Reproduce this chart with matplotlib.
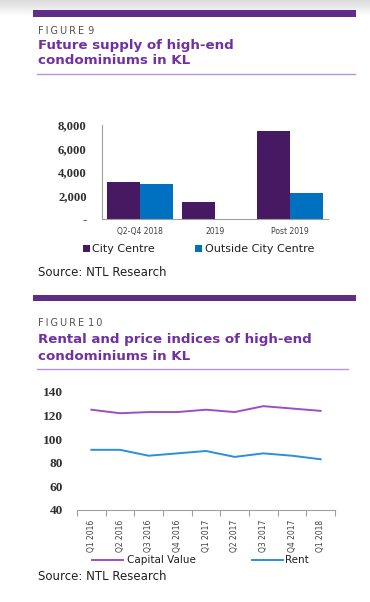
import numpy as np
import matplotlib.pyplot as plt
from matplotlib.patches import Rectangle
from matplotlib.lines import Line2D

# figure 9 data: future supply (units)
supply_cats = ["Q2-Q4 2018", "2019", "Post 2019"]
city_centre = [3150, 1450, 7500]
outside_city = [2980, 0, 2200]

# figure 10 data: indices
quarters = ["Q1 2016", "Q2 2016", "Q3 2016", "Q4 2016", "Q1 2017",
            "Q2 2017", "Q3 2017", "Q4 2017", "Q1 2018"]
capital_value = [125, 122, 123, 123, 125, 123, 128, 126, 124]
rent = [91, 91, 86, 88, 90, 85, 88, 86, 83]

W, H = 370, 602
purple_dark = "#5f2d88"
title_col = "#7030a0"
thin_col = "#b994d6"
grey_txt = "#505050"

fig = plt.figure(figsize=(W / 100, H / 100), dpi=100)

def fx(x):
    return x / W

def fy(y):
    return 1 - y / H

# light grey shadow at the very top
grad = fig.add_axes([0, fy(16), 1, 16 / H])
g = np.linspace(0.86, 1.0, 50).reshape(-1, 1)
grad.imshow(np.dstack([g, g, g]), aspect="auto", extent=[0, 1, 0, 1])
grad.axis("off")

def header(y_bar, bar_h, y_fig, y_t1, y_t2, y_line, x_line_end, num, l1, l2):
    fig.add_artist(Rectangle((fx(33), fy(y_bar + bar_h)), fx(356) - fx(33), bar_h / H,
                             transform=fig.transFigure, color=purple_dark, lw=0))
    # letter-spaced label
    label = "\u2009".join("FIGURE") + "\u2009\u2009" + "\u2009".join(num)
    fig.text(fx(38), fy(y_fig), label, fontsize=7, color=grey_txt,
             va="center", ha="left")
    fig.text(fx(38), fy(y_t1), l1, fontsize=9.6, color=title_col, weight="bold",
             va="center", ha="left")
    fig.text(fx(38), fy(y_t2), l2, fontsize=9.6, color=title_col, weight="bold",
             va="center", ha="left")
    fig.add_artist(Line2D([fx(37), fx(x_line_end)], [fy(y_line), fy(y_line)],
                          transform=fig.transFigure, color=thin_col, lw=1))

header(10, 7, 31, 45, 61, 74, 355, "9", "Future supply of high-end", "condominiums in KL")
header(295, 6, 323, 339, 357, 369, 348, "10", "Rental and price indices of high-end",
       "condominiums in KL")

# ---- figure 9: bar chart
ax1 = fig.add_axes([fx(102), fy(219), fx(328) - fx(102), (219 - 125) / H])
x = np.arange(len(supply_cats))
bw = 0.44
ax1.bar(x - bw / 2, city_centre, bw, color="#461962")
ax1.bar(x + bw / 2, outside_city, bw, color="#0070c0")
ax1.set_xlim(-0.5, 2.5)
ax1.set_ylim(0, 8000)
ax1.set_yticks([0, 2000, 4000, 6000, 8000])
ax1.set_yticklabels(["-", "2,000", "4,000", "6,000", "8,000"],
                    family="Liberation Serif", weight="bold", fontsize=9.2, color="#303030")
ax1.set_xticks(x)
ax1.set_xticklabels(supply_cats, fontsize=5.5, color="#404040")
ax1.tick_params(axis="both", length=0)
ax1.tick_params(axis="y", pad=11)
ax1.tick_params(axis="x", pad=6)
for s in ["top", "right"]:
    ax1.spines[s].set_visible(False)
for s in ["left", "bottom"]:
    ax1.spines[s].set_color("#a0a0a0")
    ax1.spines[s].set_linewidth(0.8)

# legend built by hand to match spacing
fig.add_artist(Rectangle((fx(83), fy(252)), 7 / W, 7 / H, transform=fig.transFigure,
                         color="#461962", lw=0))
fig.text(fx(92), fy(249), "City Centre", fontsize=8, va="center", color="#202020")
fig.add_artist(Rectangle((fx(195), fy(252)), 7 / W, 7 / H, transform=fig.transFigure,
                         color="#0070c0", lw=0))
fig.text(fx(205), fy(249), "Outside City Centre", fontsize=8, va="center", color="#202020")
fig.text(fx(38), fy(273), "Source: NTL Research", fontsize=8.5, va="center", color="#202020")

# ---- figure 10: line chart
ax2 = fig.add_axes([fx(77), fy(510), fx(335) - fx(77), (510 - 392) / H])
xi = np.arange(len(quarters))
ax2.plot(xi, capital_value, color="#9b4fc4", lw=1.4)
ax2.plot(xi, rent, color="#2b8fd9", lw=1.4)
ax2.set_xlim(-0.5, len(quarters) - 0.5)
ax2.set_ylim(40, 140)
ax2.set_yticks([40, 60, 80, 100, 120, 140])
ax2.set_yticklabels(["40", "60", "80", "100", "120", "140"],
                    family="Liberation Serif", weight="bold", fontsize=9.6, color="#303030")
ax2.set_xticks(xi)
ax2.set_xticklabels(quarters, rotation=90, fontsize=5.5, color="#404040")
ax2.set_xticks(np.arange(-0.5, len(quarters)), minor=True)
ax2.tick_params(axis="x", which="major", length=0, pad=7)
ax2.tick_params(axis="x", which="minor", length=4, color="#a0a0a0", width=0.8)
ax2.tick_params(axis="y", length=0, pad=10)
for s in ["top", "right", "left"]:
    ax2.spines[s].set_visible(False)
ax2.spines["bottom"].set_color("#a0a0a0")
ax2.spines["bottom"].set_linewidth(0.8)

fig.add_artist(Line2D([fx(92), fx(123)], [fy(560), fy(560)], transform=fig.transFigure,
                      color="#9b4fc4", lw=1.4))
fig.text(fx(127), fy(560), "Capital Value", fontsize=7.5, va="center", color="#202020")
fig.add_artist(Line2D([fx(252), fx(283)], [fy(560), fy(560)], transform=fig.transFigure,
                      color="#2b8fd9", lw=1.4))
fig.text(fx(285), fy(560), "Rent", fontsize=7.5, va="center", color="#202020")
fig.text(fx(38), fy(577), "Source: NTL Research", fontsize=8.5, va="center", color="#202020")

fig.savefig("out.png", dpi=100, facecolor="white")
